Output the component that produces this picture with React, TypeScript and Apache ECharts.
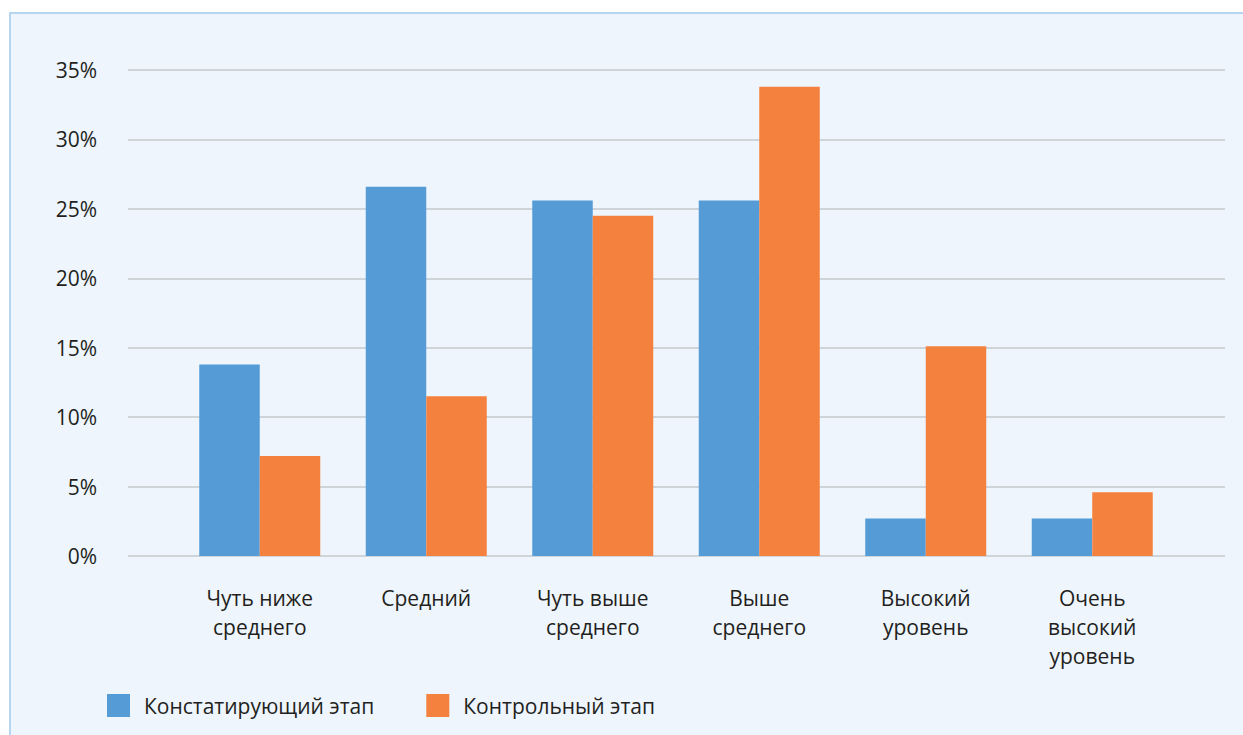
import React, { useEffect, useRef } from "react";
import * as echarts from "echarts";

const categories = [
  "Чуть ниже\nсреднего",
  "Средний",
  "Чуть выше\nсреднего",
  "Выше\nсреднего",
  "Высокий\nуровень",
  "Очень\nвысокий\nуровень",
];
const seriesNames = ["Констатирующий этап", "Контрольный этап"];
const ascertaining = [13.8, 26.6, 25.6, 25.6, 2.7, 2.7];
const control = [7.2, 11.5, 24.5, 33.8, 15.1, 4.6];
const yTicks = [0, 5, 10, 15, 20, 25, 30, 35];

const FONT = "'Open Sans', sans-serif";
const TEXT = "#231f20";

export default function App() {
  const ref = useRef<HTMLDivElement>(null);
  useEffect(() => {
    if (!ref.current) return;
    const chart = echarts.init(ref.current, undefined, { renderer: "svg" });
    const yMin = yTicks[0];
    const yMax = yTicks[yTicks.length - 1];
    const step = yTicks[1] - yTicks[0];
    chart.setOption({
      animation: false,
      backgroundColor: "#ffffff",
      textStyle: { fontFamily: FONT },
      graphic: [
        {
          type: "rect",
          z: -10,
          silent: true,
          shape: { x: 10, y: 13, width: 1250, height: 740 },
          style: { fill: "#eef5fc", stroke: "#b6d6ef", lineWidth: 2 },
        },
      ],
      legend: {
        left: 107,
        top: 694,
        padding: 0,
        itemWidth: 23,
        itemHeight: 23,
        itemGap: 52,
        icon: "rect",
        data: seriesNames,
        textStyle: { fontFamily: FONT, fontSize: 21, color: TEXT, padding: [0, 0, 0, 9] },
      },
      grid: [
        { left: 128, right: 18, top: 70, bottom: 179 },
        { left: 176.5, right: 67.5, top: 70, bottom: 179 },
      ],
      xAxis: [
        {
          type: "category",
          gridIndex: 0,
          data: categories,
          show: false,
        },
        {
          type: "category",
          gridIndex: 1,
          data: categories,
          axisLine: { show: false },
          axisTick: { show: false },
          axisLabel: {
            margin: 27,
            fontFamily: FONT,
            fontSize: 21,
            lineHeight: 29,
            color: TEXT,
            interval: 0,
          },
        },
      ],
      yAxis: [
        {
          type: "value",
          gridIndex: 0,
          min: yMin,
          max: yMax,
          interval: step,
          axisLine: { show: false },
          axisTick: { show: false },
          axisLabel: {
            margin: 31,
            fontFamily: FONT,
            fontSize: 21,
            color: TEXT,
            formatter: "{value}%",
          },
          splitLine: { lineStyle: { color: "#c5c8cc", width: 1.5 } },
        },
        {
          type: "value",
          gridIndex: 1,
          min: yMin,
          max: yMax,
          interval: step,
          show: false,
          splitLine: { show: false },
        },
      ],
      series: [
        {
          name: seriesNames[0],
          type: "bar",
          xAxisIndex: 1,
          yAxisIndex: 1,
          data: ascertaining,
          barWidth: 60.5,
          barGap: "0%",
          itemStyle: { color: "#559bd6" },
        },
        {
          name: seriesNames[1],
          type: "bar",
          xAxisIndex: 1,
          yAxisIndex: 1,
          data: control,
          barWidth: 60.5,
          barGap: "0%",
          itemStyle: { color: "#f4823e" },
        },
      ],
    });
    return () => chart.dispose();
  }, []);
  return (
    <div
      ref={ref}
      style={{ position: "absolute", left: 0, top: 0, width: 1243, height: 735 }}
    />
  );
}
